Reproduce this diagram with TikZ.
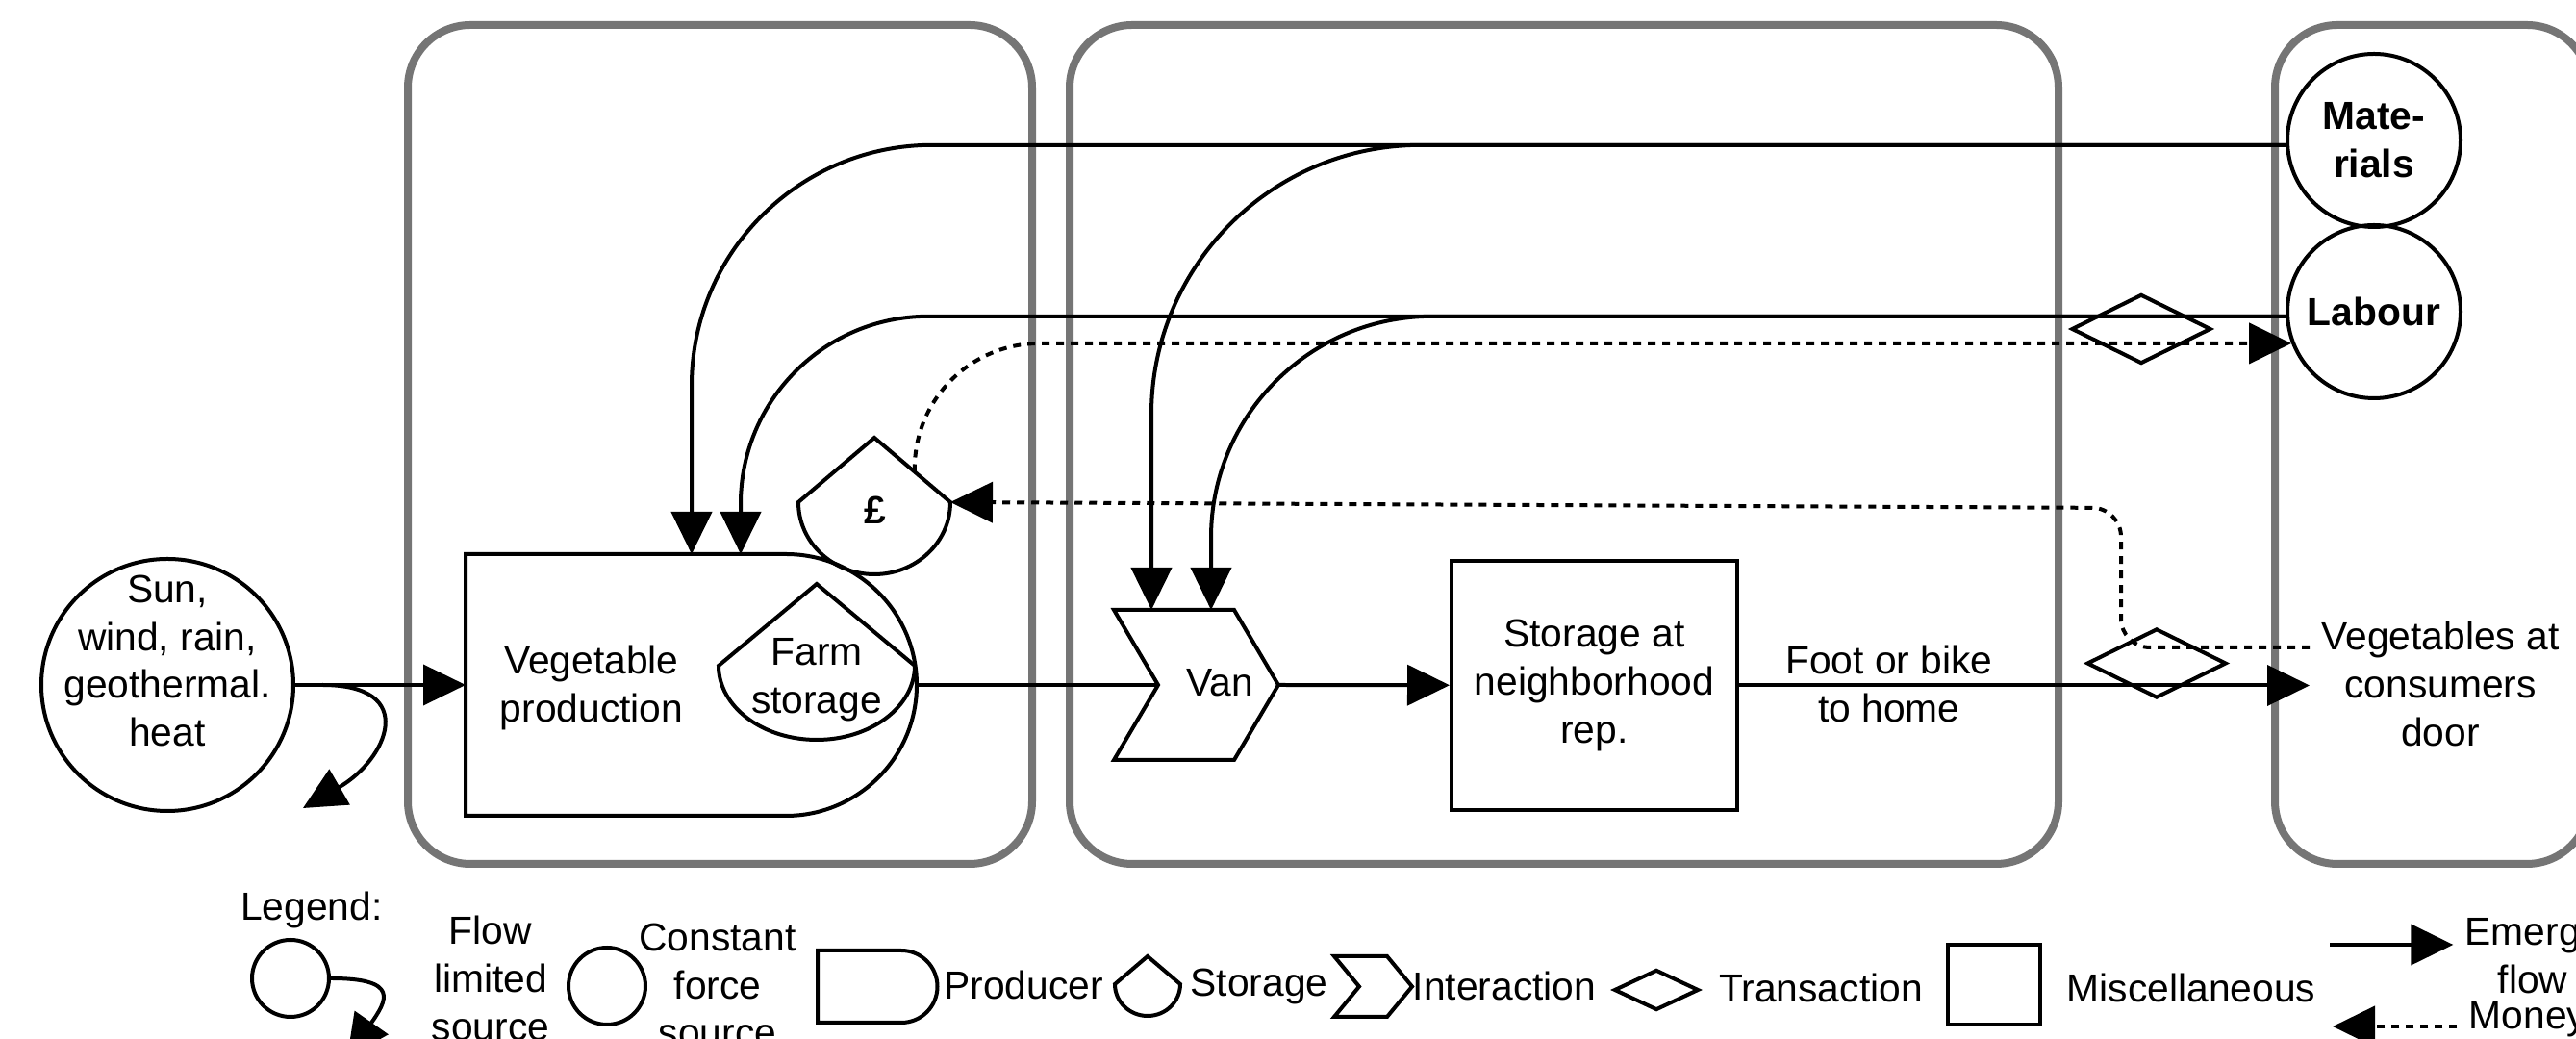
\documentclass[tikz,border=0pt]{standalone}
\usepackage{fontspec}
\setmainfont{Liberation Sans}
\usetikzlibrary{calc}
\usetikzlibrary{arrows.meta}
\usetikzlibrary{shapes.geometric}
\tikzstyle{outline}=[line width=0.04cm]
\tikzstyle{emergyflow}=[line width=0.04cm,-{Triangle[length=0.44cm,width=0.42cm]}]
\tikzstyle{moneyflow}=[emergyflow,dash pattern=on 0.08cm off 0.07cm]
\tikzstyle{subsystem}=[line width=0.08cm,draw=black!54,rounded corners=0.65cm]
\tikzstyle{txt}=[align=center,font=\fontsize{11.6}{14.2}\selectfont]
\tikzstyle{boldtxt}=[align=center,font=\fontsize{11.6}{14.2}\selectfont\bfseries]
\tikzstyle{source}=[circle,draw,line width=0.04cm,inner sep=0pt]
\tikzstyle{misc}=[rectangle,draw,line width=0.04cm,txt]
\tikzstyle{transaction}=[diamond,draw,line width=0.04cm,inner sep=0pt,minimum width=1.45cm,minimum height=0.72cm]
\newcommand{\drawproducer}[4]{% Syntax: {name}{north west corner}{straight part}{radius}
\draw[outline] (#2) coordinate (#1-nw) -- ++(#3,0) arc (90:0:#4) coordinate (#1-out) arc (0:-90:#4) -- ++(-#3,0) -- ++(0,#4) coordinate (#1-in) -- cycle;
}
\newcommand{\drawtank}[5]{% Syntax: {name}{centre of shoulders}{half width}{roof height}{bottom depth}
\draw[outline] ($(#2)+(-#3,0)$) coordinate (#1-l) -- ++(#3,#4) coordinate (#1-top) -- ++(#3,-#4) coordinate (#1-r) arc (0:-180:#3 and #5) -- cycle;
}
\newcommand{\drawchevron}[5]{% Syntax: {name}{centre}{half width}{half height}{depth}
\draw[outline] ($(#2)+(-#3,#4)$) -- ++({2*#3},0) -- ++(#5,-#4) coordinate (#1-tip) -- ++(-#5,-#4) -- ++({-2*#3},0) -- ++(#5,#4) coordinate (#1-notch) -- cycle;
}

\begin{document}
\begin{tikzpicture}
  \useasboundingbox (0,0) rectangle (26.78,10.80);
  % subsystem windows
  \draw[subsystem] (4.24,1.82) rectangle (10.73,10.54);
  \draw[subsystem] (11.12,1.82) rectangle (21.40,10.54);
  \draw[subsystem] (23.65,1.82) rectangle (26.92,10.54);

  % sources
  \node[source,minimum size=2.62cm] (sun) at (1.74,3.68) {};
  \node[txt] (sun-txt) at ($(sun)+(0,0.25)$) {Sun,\\wind, rain,\\geothermal.\\heat};
  \node[source,boldtxt,minimum size=1.80cm] (mat) at (24.68,9.34) {Mate-\\rials};
  \node[source,boldtxt,minimum size=1.80cm] (lab) at (24.68,7.56) {Labour};

  % farm
  \drawproducer{veg}{4.84,5.04}{3.33}{1.36}
  \node[txt] (veg-txt) at (6.15,3.65) {Vegetable\\production};
  \drawtank{farm}{8.49,3.88}{1.02}{0.85}{0.77}
  \node[txt] (farm-txt) at (8.49,3.735) {Farm\\storage};
  \drawtank{pound}{9.09,5.58}{0.79}{0.67}{0.75}
  \node[boldtxt] (pound-txt) at (9.10,5.50) {£};

  % distribution
  \drawchevron{van}{12.205,3.68}{0.625}{0.78}{0.46}
  \node[txt] (van-txt) at (12.68,3.70) {Van};
  \node[misc,minimum width=2.97cm,minimum height=2.59cm] (rep) at (16.575,3.675) {Storage at\\neighborhood\\rep.};
  \node[txt] (bike) at (19.64,3.695) {Foot or bike\\to home};
  \node[txt] (door) at (25.37,3.69) {Vegetables at\\consumers\\door};
  \node[transaction] (sale-lab) at (22.26,7.38) {};
  \node[transaction] (sale-veg) at (22.42,3.905) {};

  \coordinate (veg-in1) at (7.19,5.04);
  \coordinate (veg-in2) at (7.70,5.04);
  \coordinate (van-in1) at (11.97,4.46);
  \coordinate (van-in2) at (12.59,4.46);
  \coordinate (sun-out) at ($(sun.east)+(0.28,0)$);
  \coordinate (sun-sink) at (3.15,2.40);
  \coordinate (pound-pay) at ($(pound-top)!0.53!(pound-r)$);
  \coordinate (door-pay) at ($(door.west)+(0,0.38)$);
  \coordinate (pay-bend) at (22.05,5.52);

  \draw[emergyflow] (sun) -- (veg-in);
  \draw[emergyflow] (sun-out) to[out=0,in=30,looseness=2] (sun-sink); % heat sink
  \draw[outline] (veg-out) -- (van-notch);
  \draw[emergyflow] (van-tip) -- (rep);
  \draw[emergyflow] (rep.east) -- (door.west |- rep.east);
  \draw[emergyflow,rounded corners=2.5cm] (mat.183) -| (veg-in1);
  \draw[emergyflow,rounded corners=2.8cm] (mat.183) -| (van-in1);
  \draw[emergyflow,rounded corners=1.95cm] (lab.183) -| (veg-in2);
  \draw[emergyflow,rounded corners=2.3cm] (lab.183) -| (van-in2);
  \draw[moneyflow,rounded corners=0.3cm] (door-pay) -| (pay-bend) -- (pound-r); % sales
  \draw[moneyflow,rounded corners=1.3cm] (pound-pay) |- (lab.201); % wages

  % legend
  \node[txt] (legend) at (3.24,1.34) {Legend:};
  \node[source,minimum size=0.80cm] (lg-flow) at (3.02,0.63) {};
  \coordinate (lg-sink) at (3.61,-0.19);
  \draw[emergyflow] (lg-flow.east) to[out=0,in=55,looseness=2.2] (lg-sink);
  \node[txt] (lg-flow-txt) at (5.10,0.63) {Flow\\limited\\source};
  \node[source,minimum size=0.80cm] (lg-const) at (6.31,0.55) {};
  \node[txt] (lg-const-txt) at (7.46,0.56) {Constant\\force\\source};
  \drawproducer{lg-prod}{8.50,0.92}{0.87}{0.375}
  \node[txt] (lg-prod-txt) at (10.64,0.56) {Producer};
  \drawtank{lg-store}{11.93,0.57}{0.34}{0.29}{0.33}
  \node[txt] (lg-store-txt) at (13.09,0.54) {Storage};
  \drawchevron{lg-inter}{14.145,0.545}{0.275}{0.315}{0.26}
  \node[txt] (lg-inter-txt) at (15.64,0.55) {Interaction};
  \node[transaction,minimum width=0.88cm,minimum height=0.42cm] (lg-trans) at (17.22,0.51) {};
  \node[txt] (lg-trans-txt) at (18.93,0.53) {Transaction};
  \node[misc,minimum width=0.96cm,minimum height=0.83cm] (lg-misc) at (20.73,0.565) {};
  \node[txt] (lg-misc-txt) at (22.78,0.53) {Miscellaneous};
  \node[txt] (lg-emergy) at (26.33,0.86) {Emergy\\flow};
  \node[txt] (lg-money) at (26.28,0.20) {Money};
  \coordinate (lg-e) at (24.22,0.98);
  \coordinate (lg-m) at (24.25,0.13);
  \draw[emergyflow] (lg-e) -- (lg-emergy.west |- lg-e);
  \draw[moneyflow] (lg-money.west |- lg-m) -- (lg-m);
\end{tikzpicture}
\end{document}
